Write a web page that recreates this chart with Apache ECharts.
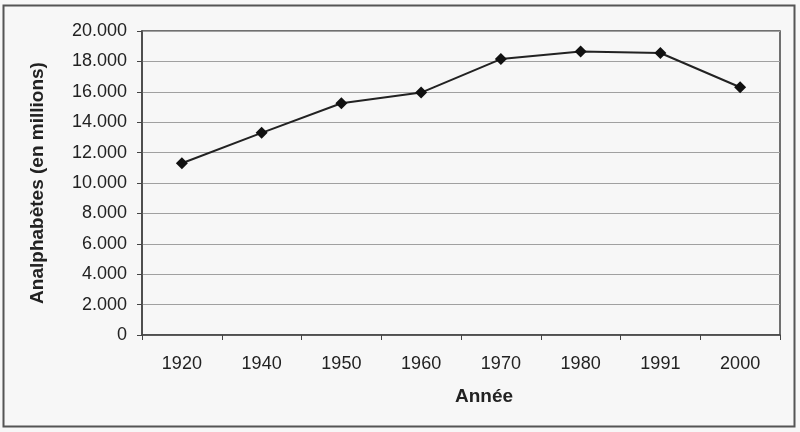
<!DOCTYPE html>
<html>
<head>
<meta charset="utf-8">
<script src="https://cdn.jsdelivr.net/npm/echarts@6/dist/echarts.min.js"></script>
<style>
  html, body { margin: 0; padding: 0; background: #f7f7f7; }
  #chart { width: 800px; height: 432px; }
</style>
</head>
<body>
<div id="chart"></div>
<script>
var years = ['1920', '1940', '1950', '1960', '1970', '1980', '1991', '2000']
var illiterates = [11300, 13300, 15250, 15950, 18150, 18650, 18550, 16300]

var chart = echarts.init(document.getElementById('chart'))

chart.setOption({
  backgroundColor: '#f7f7f7',
  animation: false,
  textStyle: { fontFamily: 'Liberation Sans, Arial, sans-serif' },
  graphic: [{
    type: 'rect',
    shape: { x: 3.5, y: 5.5, width: 791, height: 421 },
    style: { fill: 'none', stroke: '#555', lineWidth: 2 },
    z: -1
  }],
  grid: {
    left: 142,
    right: 20,
    top: 31,
    bottom: 97,
    show: true,
    borderColor: '#444',
    borderWidth: 1.5,
    backgroundColor: 'transparent'
  },
  xAxis: {
    type: 'category',
    data: years,
    boundaryGap: true,
    name: 'Année',
    nameLocation: 'middle',
    nameGap: 52,
    nameTextStyle: { fontWeight: 'bold', fontSize: 19, color: '#222', padding: [0, 0, 0, 46] },
    axisLine: { lineStyle: { color: '#444', width: 1.5 } },
    axisTick: { show: true, length: 5, lineStyle: { color: '#444' } },
    axisLabel: { fontSize: 18, color: '#222', margin: 20 }
  },
  yAxis: {
    type: 'value',
    min: 0,
    max: 20000,
    interval: 2000,
    name: 'Analphabètes (en millions)',
    nameLocation: 'middle',
    nameGap: 95,
    nameTextStyle: { fontWeight: 'bold', fontSize: 19, color: '#222' },
    axisLine: { show: true, lineStyle: { color: '#444', width: 1.5 } },
    axisTick: { show: true, length: 5, lineStyle: { color: '#444' } },
    axisLabel: {
      fontSize: 18,
      color: '#222',
      margin: 15,
      formatter: function(v) {
        return v === 0 ? '0' : (v / 1000) + '.000'
      }
    },
    splitLine: { show: true, lineStyle: { color: '#a0a0a0', width: 1 } }
  },
  series: [{
    type: 'line',
    data: illiterates,
    symbol: 'diamond',
    symbolSize: 12,
    lineStyle: { color: '#222', width: 2 },
    itemStyle: { color: '#111' }
  }]
})
</script>
</body>
</html>
